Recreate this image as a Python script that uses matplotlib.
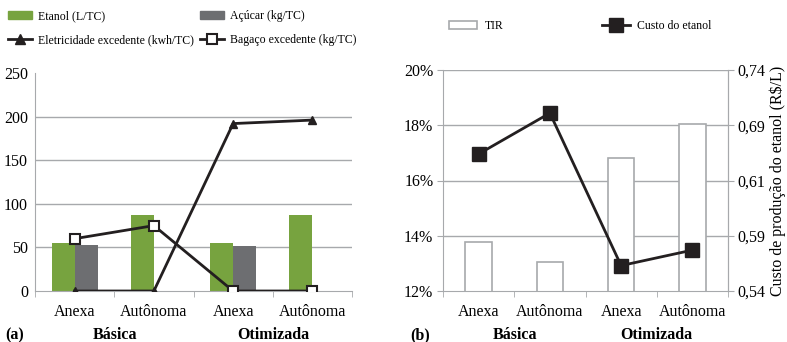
import numpy as np
import matplotlib
matplotlib.use("Agg")
import matplotlib.pyplot as plt
from matplotlib.lines import Line2D
from matplotlib.patches import Patch

plt.rcParams["font.family"] = ["Liberation Serif", "DejaVu Serif"]

# ---- data ----
categorias = ["Anexa", "Autônoma", "Anexa", "Autônoma"]
grupos = ["Básica", "Otimizada"]

etanol = [55, 87, 55, 87]          # L/TC
acucar = [53, 0, 52, 0]            # kg/TC
eletricidade = [0, 0, 192, 196]    # kwh/TC
bagaco = [60, 75, 0, 0]            # kg/TC

tir = [13.78, 13.06, 16.8, 18.04]          # %
custo = [0.664, 0.701, 0.563, 0.577]       # R$/L
custo_ticks = [0.54, 0.59, 0.64, 0.69, 0.74]
custo_labels = ["0,54", "0,59", "0,61", "0,69", "0,74"]

green = "#77a33f"
grey = "#6d6e71"
gridc = "#a7a9ac"
black = "#231f20"

W, H = 787, 342
fig = plt.figure(figsize=(W / 100, H / 100), dpi=100)


def box(x0, y0, x1, y1):
    return [x0 / W, 1 - y1 / H, (x1 - x0) / W, (y1 - y0) / H]


x = np.arange(len(categorias))

# ---------------- panel (a) ----------------
ax = fig.add_axes(box(35, 73, 352, 291))
bw = 0.29
ax.bar(x - bw, etanol, width=bw, align="edge", color=green, zorder=2)
ax.bar(x, acucar, width=bw, align="edge", color=grey, zorder=2)
ax.plot(x, eletricidade, color=black, lw=2, marker="^", ms=6, zorder=3)
ax.plot(x, bagaco, color=black, lw=2, marker="s", ms=7,
        mfc="white", mec=black, mew=1.5, zorder=4)
ax.set_xlim(-0.5, 3.5)
ax.set_ylim(0, 250)
ax.set_yticks([0, 50, 100, 150, 200, 250])
for v in [50, 100, 150, 200]:
    ax.axhline(v, color=gridc, lw=1, zorder=1)
for s in ["top", "right"]:
    ax.spines[s].set_visible(False)
for s in ["left", "bottom"]:
    ax.spines[s].set_color(gridc)
ax.set_xticks(x)
ax.set_xticklabels(categorias)
ax.set_xticks(np.arange(-0.5, 4, 1), minor=True)
ax.tick_params(axis="x", which="major", length=0, pad=9, labelsize=11.5)
ax.tick_params(axis="x", which="minor", length=4, color=gridc)
ax.tick_params(axis="y", length=0, pad=5, labelsize=11.5)

# ---------------- panel (b) ----------------
bx = fig.add_axes(box(443, 70, 728, 291))
bx.bar(x, tir, width=0.37, bottom=0, color="white", edgecolor=gridc, lw=1.2, zorder=2)
bx.set_ylim(12, 20)
bx.set_yticks([12, 14, 16, 18, 20])
bx.set_yticklabels(["12%", "14%", "16%", "18%", "20%"])
for v in [14, 16, 18, 20]:
    bx.axhline(v, color=gridc, lw=1, zorder=1)
bx.set_xlim(-0.5, 3.5)
bx.set_xticks(x)
bx.set_xticklabels(categorias)
bx.set_xticks(np.arange(-0.5, 4, 1), minor=True)
bx.tick_params(axis="x", which="major", length=0, pad=9, labelsize=11.5)
bx.tick_params(axis="x", which="minor", length=4, color=gridc)
bx.tick_params(axis="y", length=4, color=gridc, pad=3, labelsize=11.5)
bx.spines["top"].set_visible(False)
for s in ["left", "bottom", "right"]:
    bx.spines[s].set_color(gridc)

bx2 = bx.twinx()
bx2.plot(x, custo, color=black, lw=2, marker="s", ms=10, zorder=4)
bx2.set_ylim(0.54, 0.74)
bx2.set_yticks(custo_ticks)
bx2.set_yticklabels(custo_labels)
bx2.tick_params(axis="y", length=4, color=gridc, pad=3, labelsize=11.5)
for s in ["top", "left", "bottom"]:
    bx2.spines[s].set_visible(False)
bx2.spines["right"].set_color(gridc)
bx2.set_ylabel("Custo de produção do etanol (R$/L)", fontsize=11.5, labelpad=3)

# ---------------- group labels ----------------
fs = 11.5
yb = 1 - 335 / H
fig.text(5 / W, yb, "(a)", fontsize=fs, fontweight="bold", va="center")
fig.text(115 / W, yb, grupos[0], fontsize=fs, fontweight="bold", ha="center", va="center")
fig.text(273 / W, yb, grupos[1], fontsize=fs, fontweight="bold", ha="center", va="center")
fig.text(410 / W, yb, "(b)", fontsize=fs, fontweight="bold", va="center")
fig.text(515 / W, yb, grupos[0], fontsize=fs, fontweight="bold", ha="center", va="center")
fig.text(656 / W, yb, grupos[1], fontsize=fs, fontweight="bold", ha="center", va="center")

# ---------------- legends ----------------
lk = dict(frameon=False, fontsize=8.5, handlelength=2.0, handletextpad=0.55,
          labelspacing=1.0, borderpad=0, borderaxespad=0)
fig.legend([Patch(color=green),
            Line2D([], [], color=black, lw=2, marker="^", ms=7)],
           ["Etanol (L/TC)", "Eletricidade excedente (kwh/TC)"],
           loc="upper left", bbox_to_anchor=(8 / W, 1 - 10 / H), **lk)
fig.legend([Patch(color=grey),
            Line2D([], [], color=black, lw=2, marker="s", ms=7, mfc="white", mew=1.5)],
           ["Açúcar (kg/TC)", "Bagaço excedente (kg/TC)"],
           loc="upper left", bbox_to_anchor=(200 / W, 1 - 10 / H), **lk)

lk2 = dict(frameon=False, fontsize=8.5, handlelength=2.4, handletextpad=0.6,
           borderpad=0, borderaxespad=0)
fig.legend([Patch(facecolor="white", edgecolor=gridc, lw=1.2)], ["TIR"],
           loc="upper left", bbox_to_anchor=(449 / W, 1 - 20 / H), **lk2)
fig.legend([Line2D([], [], color=black, lw=2, marker="s", ms=10)], ["Custo do etanol"],
           loc="upper left", bbox_to_anchor=(602 / W, 1 - 20 / H), **lk2)

fig.savefig("out.png", dpi=100)
